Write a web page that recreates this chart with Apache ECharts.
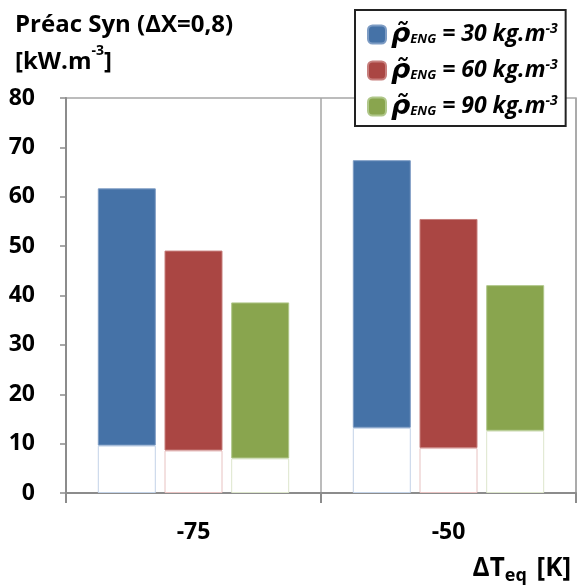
<!DOCTYPE html>
<html lang="fr">
<head>
    <meta charset="UTF-8">
    <title>Préac Syn</title>
    <script src="https://cdn.jsdelivr.net/npm/echarts@6/dist/echarts.min.js"></script>
    <style>
        html, body { margin: 0; padding: 0; background: #fff; }
        #chart { width: 578px; height: 585px; }
    </style>
</head>
<body>
<div id="chart"></div>
<script>
    // valeurs (kW.m-3)
    var categories = ['-75', '-50'];
    var rhoNames = ['30', '60', '90'];
    var base30 = [9.6, 13.2];
    var top30 = [61.7, 67.4];
    var base60 = [8.6, 9.1];
    var top60 = [49.1, 55.5];
    var base90 = [7.0, 12.6];
    var top90 = [38.6, 42.1];

    var colors = ['#4572A7', '#AA4643', '#89A54E'];
    var edgeTop = ['#7d9cc4', '#c77f7d', '#b0c78a'];
    var edgeBase = ['#c3d3e8', '#e8c2c1', '#dde6cc'];
    var font = 'Open Sans';

    var bases = [base30, base60, base90];
    var tops = [top30, top60, top90];

    var series = [];
    for (var k = 0; k < 3; k++) {
        series.push({
            name: 'b' + rhoNames[k],
            type: 'bar',
            stack: 's' + k,
            barWidth: 58,
            barGap: '15%',
            itemStyle: { color: '#fff', borderColor: edgeBase[k], borderWidth: 1 },
            data: bases[k]
        });
        series.push({
            name: rhoNames[k],
            type: 'bar',
            stack: 's' + k,
            barWidth: 58,
            barGap: '15%',
            itemStyle: { color: colors[k], borderColor: edgeTop[k], borderWidth: 1 },
            data: tops[k].map(function (v, i) { return +(v - bases[k][i]).toFixed(2); })
        });
    }

    var myChart = echarts.init(document.getElementById('chart'));
    var option = {
        animation: false,
        title: [{
            left: 10,
            top: 2,
            text: 'Préac Syn (ΔX=0,8)\n[kW.m{sup|-3}]',
            textStyle: {
                fontFamily: font, fontSize: 24, fontWeight: 'bold', color: '#000', lineHeight: 37,
                rich: {
                    sup: { fontFamily: font, fontSize: 14, fontWeight: 'bold', color: '#000', verticalAlign: 'top', lineHeight: 32 }
                }
            }
        }, {
            right: 2,
            bottom: -2,
            text: 'ΔT{sub|eq} [K]',
            textStyle: {
                fontFamily: font, fontSize: 26, fontWeight: 'bold', color: '#000',
                rich: {
                    sub: { fontFamily: font, fontSize: 18, fontWeight: 'bold', color: '#000', padding: [14, 3, 0, 0] }
                }
            }
        }],
        legend: {
            data: rhoNames,
            orient: 'vertical',
            left: 355,
            top: 10,
            padding: [11, 8, 6, 12],
            itemWidth: 18,
            itemHeight: 18,
            itemGap: 9,
            backgroundColor: '#fff',
            borderColor: '#222',
            borderWidth: 2,
            formatter: function (name) {
                return '{rho|ρ\u0303}{sub|ENG}{txt| = ' + name + ' kg.m}{sup|-3}';
            },
            textStyle: {
                rich: {
                    rho: { fontFamily: 'DejaVu Sans', fontSize: 27, fontWeight: 'bold', fontStyle: 'italic', color: '#000', lineHeight: 22 },
                    sub: { fontFamily: font, fontSize: 13, fontWeight: 'bold', fontStyle: 'italic', color: '#000', padding: [10, 0, 0, 0], lineHeight: 22 },
                    txt: { fontFamily: font, fontSize: 23, fontWeight: 'bold', fontStyle: 'italic', color: '#000', lineHeight: 22 },
                    sup: { fontFamily: font, fontSize: 14, fontWeight: 'bold', fontStyle: 'italic', color: '#000', padding: [0, 0, 10, 0], lineHeight: 22 }
                }
            }
        },
        grid: {
            left: 66,
            right: 2,
            top: 98,
            bottom: 92,
            show: true,
            borderColor: '#a6a6a6',
            borderWidth: 1.5,
            containLabel: false
        },
        xAxis: {
            type: 'category',
            data: categories,
            axisLine: { lineStyle: { color: '#8c8c8c', width: 2 } },
            axisTick: { show: true, length: 10, lineStyle: { color: '#8c8c8c', width: 2 } },
            axisLabel: { margin: 28, fontFamily: font, fontSize: 23, fontWeight: 'bold', color: '#000' },
            splitLine: { show: true, lineStyle: { color: '#a6a6a6', width: 1.5 } }
        },
        yAxis: {
            type: 'value',
            min: 0,
            max: 80,
            interval: 10,
            axisLine: { show: true, lineStyle: { color: '#8c8c8c', width: 2 } },
            axisTick: { show: true, length: 6, lineStyle: { color: '#8c8c8c', width: 1.5 } },
            axisLabel: { margin: 31, fontFamily: font, fontSize: 23, fontWeight: 'bold', color: '#000' },
            splitLine: { show: false }
        },
        series: series
    };
    myChart.setOption(option);
</script>
</body>
</html>
